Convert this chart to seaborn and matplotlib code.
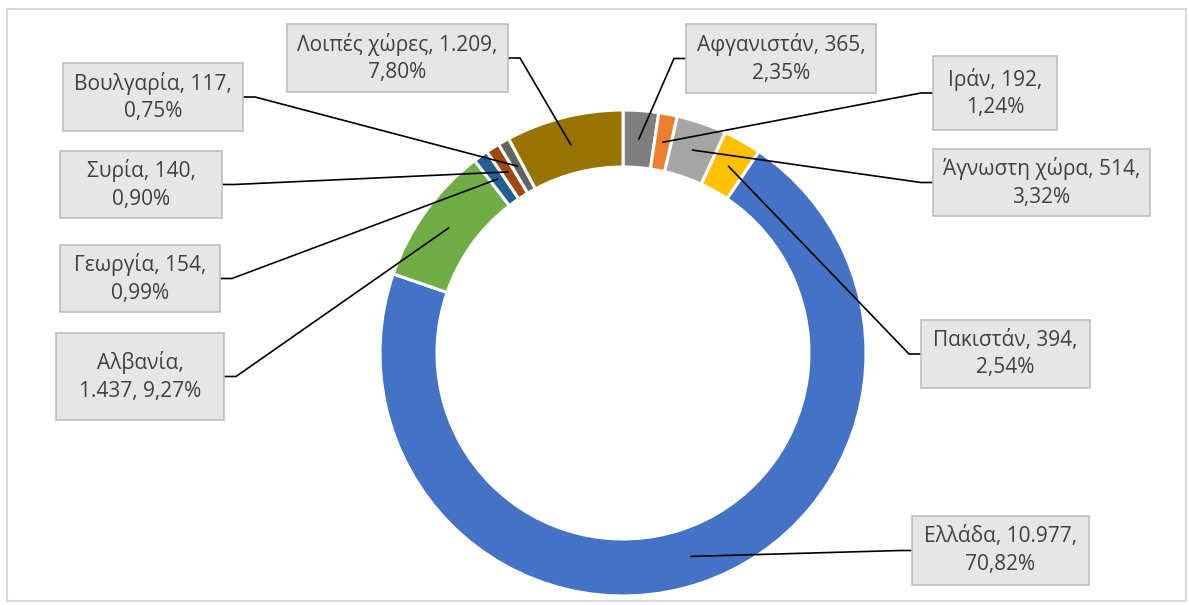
import numpy as np
import matplotlib
matplotlib.use("Agg")
import matplotlib.pyplot as plt
from matplotlib.patches import Rectangle
import seaborn as sns

# ---------------- data ----------------
countries = ["Αφγανιστάν", "Ιράν", "Άγνωστη χώρα", "Πακιστάν", "Ελλάδα",
             "Αλβανία", "Γεωργία", "Συρία", "Βουλγαρία", "Λοιπές χώρες"]
values = [365, 192, 514, 394, 10977, 1437, 154, 140, 117, 1209]
value_text = ["365", "192", "514", "394", "10.977", "1.437", "154", "140", "117", "1.209"]
pct_text = ["2,35%", "1,24%", "3,32%", "2,54%", "70,82%", "9,27%", "0,99%", "0,90%", "0,75%", "7,80%"]
colors = ["#7F7F7F", "#ED7D31", "#A5A5A5", "#FFC000", "#4472C4",
          "#70AD47", "#255E91", "#9E480E", "#636363", "#997300"]

# label texts (line breaks as in the reference)
label_text = [
    "Αφγανιστάν, 365,\n2,35%",
    "Ιράν, 192,\n1,24%",
    "Άγνωστη χώρα, 514,\n3,32%",
    "Πακιστάν, 394,\n2,54%",
    "Ελλάδα, 10.977,\n70,82%",
    "Αλβανία,\n1.437, 9,27%",
    "Γεωργία, 154,\n0,99%",
    "Συρία, 140,\n0,90%",
    "Βουλγαρία, 117,\n0,75%",
    "Λοιπές χώρες, 1.209,\n7,80%",
]

# ---------------- layout (pixel coordinates, y downward) ----------------
W, H = 1189, 605
# box: left, top, right, bottom ; side where leader attaches
boxes = [
    (686, 24, 876, 93, "L"),
    (933, 56, 1057, 130, "L"),
    (933, 149, 1150, 216, "L"),
    (921, 320, 1090, 388, "L"),
    (912, 516, 1089, 585, "L"),
    (56, 333, 224, 420, "R"),
    (60, 245, 220, 312, "R"),
    (60, 151, 222, 218, "R"),
    (63, 63, 243, 131, "R"),
    (287, 24, 508, 92, "R"),
]
CX, CY, R, RW = 623, 353, 243, 57

sns.set_theme(style="white")
plt.rcParams["font.family"] = ["Open Sans", "DejaVu Sans"]

fig = plt.figure(figsize=(W / 100, H / 100), dpi=100)
ax = fig.add_axes([0, 0, 1, 1])

pal = sns.color_palette(colors)
wedges, _ = ax.pie(values, colors=pal, radius=R, center=(CX, H - CY),
                   startangle=90, counterclock=False,
                   wedgeprops=dict(width=RW, edgecolor="white", linewidth=2.2))

ax.set_xlim(0, W)
ax.set_ylim(0, H)
ax.set_aspect("equal")
ax.axis("off")

# chart border
ax.add_patch(Rectangle((7, H - 601), 1179, 592, fill=False,
                       edgecolor="#D9D9D9", linewidth=1.5, zorder=0))

total = float(np.sum(values))
cum = np.cumsum([0] + values[:-1])
r_mid = R - RW / 2
for i, (txt, box) in enumerate(zip(label_text, boxes)):
    l, t, r, b, side = box
    # box
    ax.add_patch(Rectangle((l, H - b), r - l, b - t, facecolor="#E7E6E6",
                           edgecolor="#BFBFBF", linewidth=1.2, zorder=3))
    ax.text((l + r) / 2, H - (t + b) / 2, txt, ha="center", va="center",
            fontsize=15, color="#404040", linespacing=1.42, zorder=4)
    # leader
    frac = (cum[i] + values[i] / 2) / total
    ang = np.deg2rad(90 - frac * 360)
    tx = CX + r_mid * np.cos(ang)
    ty = (H - CY) + r_mid * np.sin(ang)
    ym = H - (t + b) / 2
    if side == "L":
        x0, x1 = l, l - 12
    else:
        x0, x1 = r, r + 12
    ax.plot([x0, x1, tx], [ym, ym, ty], color="black", linewidth=1.2,
            solid_joinstyle="miter", zorder=2)

fig.savefig("out.png", dpi=100)
